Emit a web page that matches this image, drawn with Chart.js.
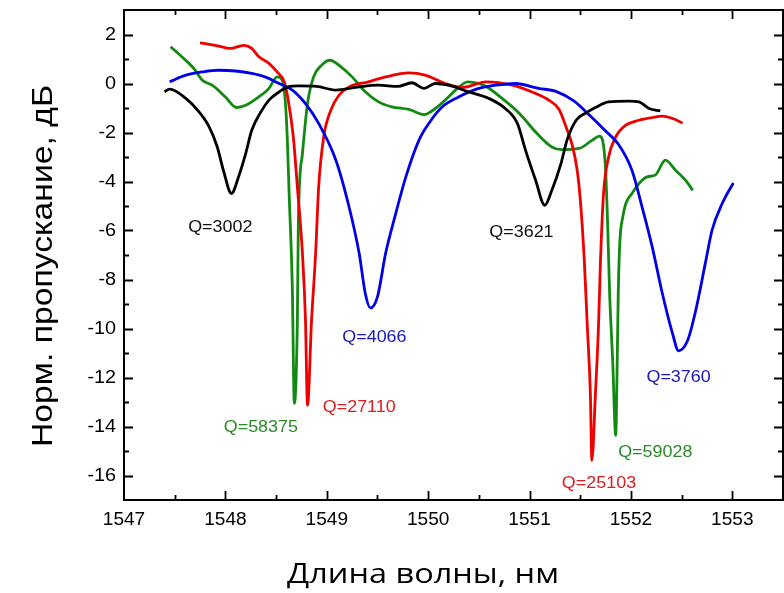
<!DOCTYPE html>
<html>
<head>
<meta charset="utf-8">
<script src="https://cdn.jsdelivr.net/npm/chart.js@4/dist/chart.umd.min.js"></script>
<style>
html,body{margin:0;padding:0;background:#fff;}
canvas{display:block;}
</style>
</head>
<body>
<canvas id="c" width="784" height="593"></canvas>
<script>
// ---- data ----
const seriesNames = ['black', 'blue', 'red', 'green'];

const wlBlack = [1547.40,1547.45,1547.61,1547.74,1547.84,1547.92,1547.98,1548.06,1548.13,1548.20,1548.26,1548.35,1548.43,1548.53,1548.62,1548.72,1548.90,1549.09,1549.30,1549.51,1549.70,1549.84,1549.96,1550.07,1550.20,1550.40,1550.60,1550.76,1550.88,1550.96,1551.06,1551.15,1551.22,1551.31,1551.37,1551.46,1551.55,1551.65,1551.78,1551.98,1552.08,1552.18,1552.29];
const dbBlack = [-0.34,-0.23,-0.61,-1.16,-1.77,-2.59,-3.54,-4.49,-3.81,-2.86,-1.91,-1.16,-0.68,-0.34,-0.14,-0.10,-0.12,-0.27,-0.15,-0.07,-0.12,0.03,-0.2,0.0,-0.07,-0.34,-0.61,-1.02,-1.63,-2.72,-3.95,-4.97,-4.36,-3.27,-2.31,-1.50,-1.22,-0.98,-0.75,-0.72,-0.75,-1.02,-1.12];

const wlBlue = [1547.45,1547.61,1547.77,1547.93,1548.10,1548.26,1548.39,1548.53,1548.66,1548.79,1548.92,1549.09,1549.22,1549.32,1549.38,1549.43,1549.50,1549.58,1549.68,1549.78,1549.91,1550.02,1550.14,1550.30,1550.50,1550.67,1550.86,1551.09,1551.26,1551.44,1551.59,1551.74,1551.88,1552.01,1552.11,1552.21,1552.31,1552.41,1552.47,1552.56,1552.64,1552.74,1552.80,1552.90,1553.01];
const dbBlue = [0.07,0.34,0.47,0.54,0.51,0.41,0.27,0.0,-0.27,-0.82,-1.63,-3.13,-5.04,-6.94,-8.57,-9.16,-8.71,-6.94,-5.31,-3.81,-2.31,-1.55,-0.95,-0.55,-0.20,-0.07,0.0,-0.20,-0.32,-0.72,-1.29,-1.9,-2.5,-3.54,-5.04,-6.67,-8.57,-10.2,-10.91,-10.48,-9.25,-7.21,-5.99,-4.90,-4.06];

const wlRed = [1547.75,1547.90,1548.05,1548.18,1548.26,1548.33,1548.43,1548.51,1548.58,1548.62,1548.67,1548.71,1548.76,1548.79,1548.81,1548.85,1548.89,1548.92,1548.97,1549.04,1549.12,1549.22,1549.41,1549.58,1549.81,1549.97,1550.17,1550.34,1550.57,1550.83,1551.06,1551.19,1551.29,1551.36,1551.42,1551.47,1551.50,1551.54,1551.57,1551.60,1551.615,1551.65,1551.68,1551.70,1551.73,1551.78,1551.85,1551.95,1552.08,1552.21,1552.31,1552.41,1552.51];
const dbRed = [1.66,1.56,1.43,1.56,1.43,1.09,0.82,0.47,0.07,-0.68,-2.18,-4.22,-6.94,-9.66,-13.13,-9.66,-6.94,-4.22,-2.18,-1.09,-0.48,-0.14,0.07,0.27,0.43,0.34,0.0,-0.16,0.07,-0.07,-0.41,-0.68,-1.05,-1.77,-2.5,-3.54,-4.7,-7.21,-9.93,-12.65,-15.38,-12.65,-9.93,-7.21,-4.49,-3.0,-2.18,-1.70,-1.50,-1.39,-1.33,-1.43,-1.61];

const wlGreen = [1547.46,1547.57,1547.69,1547.77,1547.87,1548.00,1548.11,1548.20,1548.33,1548.43,1548.51,1548.56,1548.59,1548.61,1548.63,1548.66,1548.68,1548.71,1548.72,1548.76,1548.81,1548.87,1548.95,1549.03,1549.14,1549.25,1549.38,1549.51,1549.64,1549.81,1549.96,1550.07,1550.20,1550.27,1550.39,1550.50,1550.58,1550.73,1550.90,1551.06,1551.22,1551.32,1551.49,1551.62,1551.69,1551.72,1551.75,1551.77,1551.79,1551.82,1551.85,1551.865,1551.875,1551.89,1551.92,1551.95,1552.01,1552.08,1552.16,1552.24,1552.34,1552.44,1552.54,1552.61];
const dbGreen = [1.50,1.09,0.61,0.14,-0.07,-0.55,-0.98,-0.89,-0.55,-0.20,0.27,0.14,-0.68,-2.18,-4.63,-8.30,-13.06,-9.66,-5.58,-2.86,-0.82,0.27,0.75,0.95,0.68,0.27,-0.34,-0.75,-0.95,-1.06,-1.27,-1.02,-0.55,-0.27,0.07,0.0,-0.14,-0.61,-1.22,-1.98,-2.59,-2.70,-2.65,-2.31,-2.15,-2.31,-3.5,-5.7,-8.57,-11.29,-14.36,-11.29,-8.57,-6.53,-5.44,-4.90,-4.49,-4.08,-3.81,-3.74,-3.13,-3.54,-3.95,-4.36];

const xTickValues = [1547, 1548, 1549, 1550, 1551, 1552, 1553];
const yTickValues = [-16, -14, -12, -10, -8, -6, -4, -2, 0, 2];

const qLabels = ['Q=3002', 'Q=4066', 'Q=58375', 'Q=27110', 'Q=3621', 'Q=25103', 'Q=59028', 'Q=3760'];
const qSeries = [0, 1, 3, 2, 0, 2, 3, 1];
const qWl = [1547.95, 1549.47, 1548.35, 1549.32, 1550.92, 1551.685, 1552.24, 1552.47];
const qDb = [-5.87, -10.36, -14.03, -13.21, -6.07, -16.31, -15.05, -11.99];

const xTitle = 'Длина волны, нм';
const yTitle = 'Норм. пропускание, дБ';

// ---- styles ----
const lineColors = ['#000000', '#0000e6', '#ee0000', '#128a12'];
const textColors = ['#111111', '#1a1ab8', '#d81e1e', '#2a8a2a'];

function pts(xs, ys) { return xs.map((v, i) => ({ x: v, y: ys[i] })); }
const allWl = [wlBlack, wlBlue, wlRed, wlGreen];
const allDb = [dbBlack, dbBlue, dbRed, dbGreen];

const datasets = allWl.map((xs, i) => ({
  label: seriesNames[i],
  data: pts(xs, allDb[i]),
  borderColor: lineColors[i],
  borderWidth: 2.8,
  pointRadius: 0,
  cubicInterpolationMode: 'monotone',
  fill: false
}));

// draws text horizontally stretched by factor sx (or to a target width)
function stretchText(ctx, text, x, y, sx, targetW) {
  const w = ctx.measureText(text).width;
  const f = targetW ? targetW / w : sx;
  ctx.save();
  ctx.translate(x, y);
  ctx.scale(f, 1);
  ctx.fillText(text, 0, 0);
  ctx.restore();
}

const framePlugin = {
  id: 'frame',
  afterDraw(chart) {
    const ctx = chart.ctx, a = chart.chartArea, x = chart.scales.x, y = chart.scales.y;
    ctx.save();
    ctx.strokeStyle = '#000';
    ctx.lineWidth = 2;
    ctx.strokeRect(a.left, a.top, a.right - a.left, a.bottom - a.top);
    ctx.lineWidth = 1.8;
    ctx.beginPath();
    const xmin = x.min, xmax = x.max, ymin = y.min, ymax = y.max;
    xTickValues.forEach(v => {
      [[v, 9], [v + 0.5, 5]].forEach(([t, len]) => {
        if (t <= xmin || t >= xmax) return;
        const px = Math.round(x.getPixelForValue(t)) + 0.5;
        ctx.moveTo(px, a.bottom); ctx.lineTo(px, a.bottom - len);
        ctx.moveTo(px, a.top); ctx.lineTo(px, a.top + len);
      });
    });
    yTickValues.forEach(v => {
      [[v, 9], [v + 1, 5], [v - 1, 5]].forEach(([t, len]) => {
        if (t <= ymin || t >= ymax) return;
        const py = Math.round(y.getPixelForValue(t)) + 0.5;
        ctx.moveTo(a.left, py); ctx.lineTo(a.left + len, py);
        ctx.moveTo(a.right, py); ctx.lineTo(a.right - len, py);
      });
    });
    ctx.stroke();

    // tick labels
    ctx.fillStyle = '#000';
    ctx.font = '18px "Liberation Sans", Arial, sans-serif';
    ctx.textBaseline = 'middle';
    ctx.textAlign = 'center';
    xTickValues.forEach(v => {
      stretchText(ctx, String(v), x.getPixelForValue(v), a.bottom + 20, 1.06);
    });
    ctx.textAlign = 'right';
    yTickValues.forEach(v => {
      const s = v < 0 ? '-' + Math.abs(v) : String(v);
      stretchText(ctx, s, a.left - 8, y.getPixelForValue(v) + 1, 1.1);
    });

    // Q annotations
    ctx.font = '16px "Liberation Sans", Arial, sans-serif';
    ctx.textAlign = 'center';
    ctx.textBaseline = 'middle';
    qLabels.forEach((t, i) => {
      ctx.fillStyle = textColors[qSeries[i]];
      stretchText(ctx, t, x.getPixelForValue(qWl[i]), y.getPixelForValue(qDb[i]), 1.12);
    });

    // axis titles
    ctx.fillStyle = '#000';
    ctx.font = '28px "Open Sans", "Noto Sans", sans-serif';
    ctx.textAlign = 'center';
    ctx.textBaseline = 'alphabetic';
    stretchText(ctx, xTitle, 423, 583, 1, 272);

    ctx.save();
    ctx.translate(52, 266);
    ctx.rotate(-Math.PI / 2);
    ctx.font = '30px "Liberation Sans", Arial, sans-serif';
    stretchText(ctx, yTitle, 0, 0, 1, 362);
    ctx.restore();
    ctx.restore();
  }
};

new Chart(document.getElementById('c'), {
  type: 'line',
  data: { datasets },
  options: {
    responsive: false,
    animation: false,
    events: [],
    layout: { padding: { top: 10, right: 1, left: 0, bottom: 0 } },
    plugins: { legend: { display: false }, tooltip: { enabled: false } },
    scales: {
      x: {
        type: 'linear',
        min: 1547, max: 1553.5,
        grid: { display: false, drawTicks: false },
        border: { display: false },
        afterBuildTicks: s => { s.ticks = xTickValues.map(v => ({ value: v })); },
        afterFit: s => { s.height = 93; },
        ticks: { display: false }
      },
      y: {
        type: 'linear',
        min: -17, max: 3,
        grid: { display: false, drawTicks: false },
        border: { display: false },
        afterBuildTicks: s => { s.ticks = yTickValues.map(v => ({ value: v })); },
        afterFit: s => { s.width = 124; },
        ticks: { display: false }
      }
    }
  },
  plugins: [framePlugin]
});
</script>
</body>
</html>
